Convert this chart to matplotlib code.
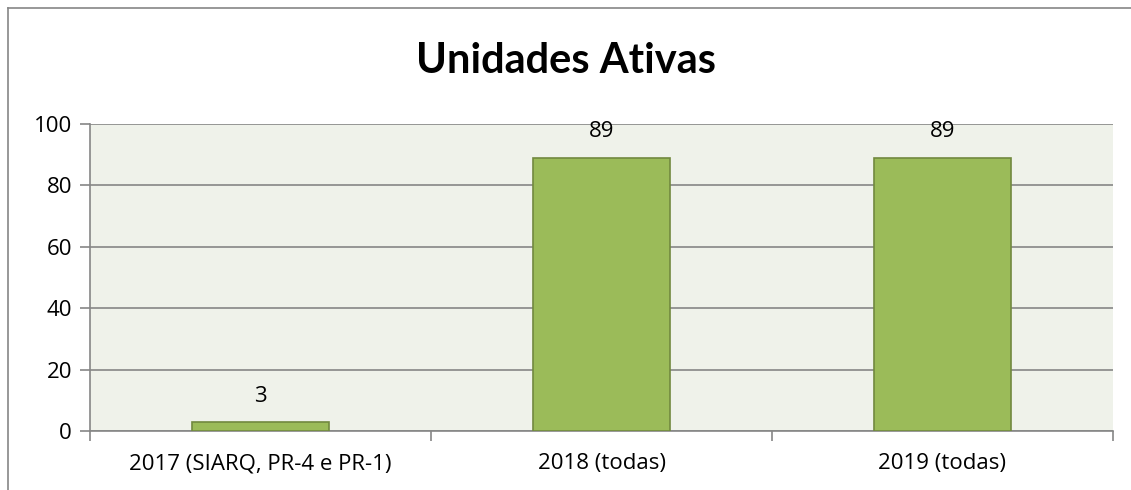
import matplotlib
matplotlib.use("Agg")
import matplotlib.pyplot as plt
from matplotlib.lines import Line2D

categories = ["2017 (SIARQ, PR-4 e PR-1)", "2018 (todas)", "2019 (todas)"]
values = [3, 89, 89]
yticks = [0, 20, 40, 60, 80, 100]

plt.rcParams["font.family"] = ["Open Sans", "DejaVu Sans"]

fig = plt.figure(figsize=(11.31, 4.9), dpi=100)
ax = fig.add_axes([90 / 1131, 1 - 431 / 490, (1113 - 90) / 1131, (431 - 124) / 490])

ax.set_facecolor("#EFF2EA")
x = range(len(categories))
ax.bar(x, values, width=0.4, color="#9BBB59", edgecolor="#71893F", linewidth=1.2, zorder=3)
for xi, v in zip(x, values):
    ax.annotate(str(v), (xi, v), xytext=(0, 11), textcoords="offset points",
                ha="center", va="bottom", fontsize=16, color="#000000")

ax.set_xlim(-0.5, len(categories) - 0.5)
ax.set_ylim(0, 100)
ax.set_yticks(yticks)
ax.yaxis.grid(True, color="#868686", linewidth=1.2, zorder=1)
ax.set_axisbelow(True)

# categories labelled at centres, tick marks between categories
ax.set_xticks(list(x))
ax.set_xticklabels(categories, fontsize=16)
ax.tick_params(axis="x", length=0, pad=16)
ax.set_xticks([i + 0.5 for i in range(-1, len(categories))], minor=True)
ax.tick_params(axis="x", which="minor", length=7, width=1.2, color="#868686", direction="out")
ax.tick_params(axis="y", length=7, width=1.2, color="#868686", labelsize=16, pad=6)

for s in ["top", "right"]:
    ax.spines[s].set_visible(False)
for s in ["left", "bottom"]:
    ax.spines[s].set_color("#868686")
    ax.spines[s].set_linewidth(1.2)

fig.text(0.5, 1 - 61 / 490, "Unidades Ativas", ha="center", va="center",
         fontsize=30, fontweight="bold", family=["Lato", "DejaVu Sans"])

# outer chart frame (partly cropped)
fig.add_artist(Line2D([8 / 1131, 8 / 1131], [0, 1 - 8 / 490], transform=fig.transFigure,
                      color="#868686", linewidth=1.2))
fig.add_artist(Line2D([8 / 1131, 1], [1 - 8 / 490, 1 - 8 / 490], transform=fig.transFigure,
                      color="#868686", linewidth=1.2))

fig.savefig("out.png", dpi=100)
